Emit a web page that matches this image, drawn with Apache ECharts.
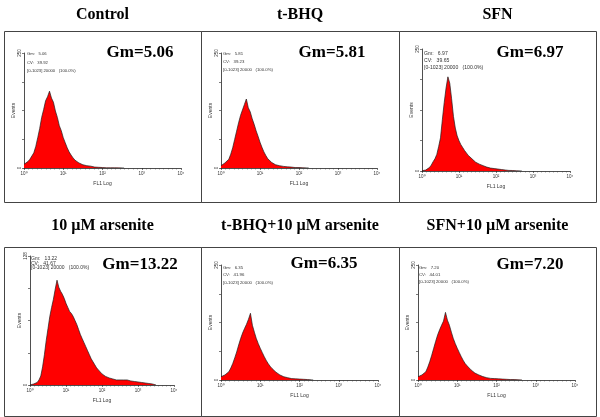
<!DOCTYPE html>
<html><head><meta charset="utf-8">
<script src="https://cdn.jsdelivr.net/npm/echarts@6/dist/echarts.min.js"></script>
<style>html,body{margin:0;padding:0;background:#fff}#c{width:600px;height:417px}</style>
</head><body><div id="c"></div>
<script>
// ---------- data ----------
const panelTitles = ['Control', 't-BHQ', 'SFN', '10 µM arsenite', 't-BHQ+10 µM arsenite', 'SFN+10 µM arsenite'];
const gmLabels = ['Gm=5.06', 'Gm=5.81', 'Gm=6.97', 'Gm=13.22', 'Gm=6.35', 'Gm=7.20'];
const statGm = ['5.06', '5.81', '6.97', '13.22', '6.35', '7.20'];
const statCV = ['39.92', '39.23', '39.65', '41.67', '41.96', '44.01'];
const statGate = '[0-1023] 20000   (100.0%)';
const yMaxes = [250, 250, 250, 128, 250, 250];
const xTickLabels = ['10\u2070', '10\u00B9', '10\u00B2', '10\u00B3', '10\u2074'];
const xAxisName = 'FL1 Log';
const yAxisName = 'Events';
// bin positions (decades of FL1) — histogram channels, step 0.05 decade
const binCount = 71;
const bins = Array.from({length: binCount}, (_, i) => +(i * 0.05).toFixed(2));

const control = [8,12,14,19,23,33,47,66,86,110,127,146,155,167,152,143,124,110,92,81,66,55,44,35,28,22,17,14,11,9,7,6,5,5,4,3,2,2,1.5,1,1,1,0.5,1,0.5,0.5,0.5,0.3,0.3,0.2,0.2,0];
const tbhq = [5,8,11,14,19,30,44,62,80,98,114,126,138,150,131,122,107,95,81,69,56,45,35,27,20,16,12,9,7,6,5,4,3.5,3,2.5,2,2,1.5,1,1,1,0.5,0.5,0.5,0.3,0];
const sfn = [0.5,1,2,4,7,12,19,25,34,50,68,105,140,170,193,180,148,112,88,72,62,54,48,42,37,32,28,25,21,18,16,14,12,11,10,8,7,6,5.5,5,4.5,4,3.5,3,2.5,2,1.5,1.2,1,1,0.8,0.5,0.5,0.3,0];
const arsenite = [0,0.5,1,1.5,2.5,5,9,18,30,44,56,68,77,85,95,104,97,93,90,86,81,77,73,71,68,64,60,55,50,46,42,38,34,30,26,23,20,17,15,13,11,10,8.5,8,7,6.5,6,5.5,5,5,5,5.5,5,4.5,5,4.5,4,4,3.5,3.5,3,3,2.5,2.5,2,2,1.5,1.5,1,0.5,0];
const tbhqArsenite = [7,9,11,14,18,26,36,48,61,76,90,102,112,121,132,145,119,104,90,79,69,60,51,43,36,30,25,21,17,14,11,9,7,6,5,4,3,3,2.5,2,2,1.5,1.5,1,1,0.5,0.5,0];
const sfnArsenite = [7,9,11,14,18,28,40,54,69,84,98,109,119,128,147,130,119,104,90,79,69,60,51,43,36,31,27,22,18,15,13,11,9,7.5,6,5,4,3.5,3,3,3,2.5,2,2,2,1.5,1.5,1,1,1,1,0.5,0.5,0];
const seriesValues = [control, tbhq, sfn, arsenite, tbhqArsenite, sfnArsenite];

// ---------- layout ----------
const grids = [
  {left: 24, top: 53, width: 157, height: 115},
  {left: 221, top: 53, width: 156, height: 115},
  {left: 422, top: 49, width: 148, height: 122},
  {left: 30, top: 256, width: 144, height: 129},
  {left: 221, top: 265, width: 157, height: 115},
  {left: 418, top: 265, width: 157, height: 115}
];
const boxes = [
  [4, 31, 197, 171], [201, 31, 198, 171], [399, 31, 197, 171],
  [4, 247, 197, 169], [201, 247, 198, 169], [399, 247, 197, 169]
];
const titlePos = [[102.5, 15.5], [300, 15.5], [497.5, 15.5], [102.5, 226.5], [300, 226.5], [497.5, 226.5]];
const gmPos = [[140, 52.5], [332, 52.5], [530, 52.5], [140, 265], [324, 264], [530, 265]];
// [x, first-line centre y, line height, font size]
const statPos = [[27, 54, 8.5, 4.2], [223, 54, 8, 4.3], [424, 53.5, 7, 5.1], [31, 258.5, 4.8, 5.0], [223, 267.5, 7.5, 4.3], [419, 267.5, 7, 4.3]];

const serif = '"Liberation Serif","Times New Roman",serif';
const sans = '"Liberation Sans",Arial,sans-serif';

const option = {
  animation: false,
  backgroundColor: '#fff',
  grid: grids.map(g => Object.assign({containLabel: false}, g)),
  xAxis: grids.map((g, i) => ({
    type: 'value', gridIndex: i, min: 0, max: 4, interval: 1,
    name: xAxisName, nameLocation: 'middle', nameGap: 13,
    nameTextStyle: {fontSize: 5, fontFamily: sans, color: '#333'},
    axisLine: {lineStyle: {color: '#222', width: 0.8}},
    axisTick: {length: 2, lineStyle: {color: '#222', width: 0.6}},
    minorTick: {show: true, splitNumber: 9, length: 1.5, lineStyle: {color: '#444', width: 0.5}},
    axisLabel: {fontSize: 4.5, fontFamily: sans, color: '#333', margin: 3,
      formatter: v => xTickLabels[Math.round(v)]},
    splitLine: {show: false}
  })),
  yAxis: grids.map((g, i) => ({
    type: 'value', gridIndex: i, min: 0, max: yMaxes[i], interval: yMaxes[i] / 4,
    name: yAxisName, nameLocation: 'middle', nameGap: 5,
    nameTextStyle: {fontSize: 5, fontFamily: sans, color: '#333'},
    axisLine: {show: true, lineStyle: {color: '#222', width: 0.8}},
    axisTick: {show: true, length: 2, lineStyle: {color: '#222', width: 0.6}},
    axisLabel: {fontSize: 4.5, fontFamily: sans, color: '#333', margin: 2, rotate: 90,
      formatter: v => (v === 0 || v === yMaxes[i]) ? String(v) : ''},
    splitLine: {show: false}
  })),
  series: seriesValues.map((vals, i) => ({
    type: 'line', xAxisIndex: i, yAxisIndex: i,
    data: vals.map((v, k) => [bins[k], v]),
    showSymbol: false, symbol: 'none',
    lineStyle: {color: '#1e1e1e', width: 0.7},
    areaStyle: {color: '#ff0000', opacity: 1},
    z: 3
  })),
  title: panelTitles.map((t, i) => ({
    text: t, left: titlePos[i][0], top: titlePos[i][1] - 9, textAlign: 'center', padding: 0,
    textStyle: {fontFamily: serif, fontWeight: 'bold', fontSize: 16, color: '#000'}
  })),
  graphic: [].concat(
    boxes.map(b => ({
      type: 'rect', shape: {x: b[0] + 0.5, y: b[1] + 0.5, width: b[2], height: b[3]},
      style: {fill: 'none', stroke: '#444', lineWidth: 1}, silent: true
    })),
    gmLabels.map((t, i) => ({
      type: 'text', x: gmPos[i][0], y: gmPos[i][1], z: 10,
      style: {text: t, align: 'center', verticalAlign: 'middle',
        font: 'bold 17px ' + serif, fill: '#000'}
    })),
    statGm.map((g, i) => ({
      type: 'text', x: statPos[i][0], y: statPos[i][1] - statPos[i][2] / 2, z: 10,
      style: {text: 'Gm:   ' + g + '\nCV:   ' + statCV[i] + '\n' + statGate,
        align: 'left', verticalAlign: 'top', lineHeight: statPos[i][2],
        font: statPos[i][3] + 'px ' + sans, fill: '#333'}
    }))
  )
};

const chart = echarts.init(document.getElementById('c'), null, {renderer: 'canvas', width: 600, height: 417});
chart.setOption(option);
</script>
</body></html>
